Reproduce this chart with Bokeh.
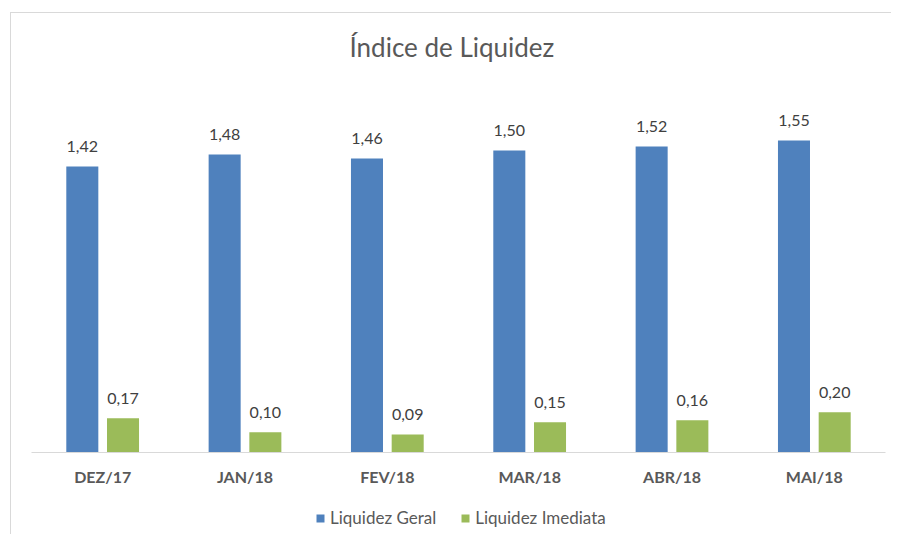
from bokeh.plotting import figure
from bokeh.models import ColumnDataSource, Range1d, FactorRange, Legend, LegendItem
from bokeh.layouts import column
from bokeh.transform import dodge
from bokeh.embed import file_html
from bokeh.resources import INLINE

months = ["DEZ/17", "JAN/18", "FEV/18", "MAR/18", "ABR/18", "MAI/18"]
liquidez_geral = [1.42, 1.48, 1.46, 1.50, 1.52, 1.55]
liquidez_imediata = [0.17, 0.10, 0.09, 0.15, 0.16, 0.20]

def fmt(v):
    return f"{v:.2f}".replace(".", ",")

src = ColumnDataSource(dict(
    m=months,
    g=liquidez_geral,
    i=liquidez_imediata,
    gl=[fmt(v) for v in liquidez_geral],
    il=[fmt(v) for v in liquidez_imediata],
))

FONT = "Lato"
TXT = "#595959"
BORDER = "#d9d9d9"
BLUE = "#4f81bd"
GREEN = "#9bbb59"

p = figure(frame_width=854, frame_height=382, x_range=FactorRange(*months, range_padding=0),
           y_range=Range1d(0, 1.897), output_backend="svg", toolbar_location=None,
           min_border_left=31, min_border_right=6, min_border_top=70, min_border_bottom=40)
p.outline_line_color = None
p.background_fill_alpha = 0
p.border_fill_alpha = 0
p.xgrid.visible = False
p.ygrid.visible = False
p.yaxis.visible = False

p.title.text = "Índice de Liquidez"
p.title.align = "left"
p.title.offset = 318
p.title.text_font = FONT
p.title.text_font_size = "26px"
p.title.text_font_style = "normal"
p.title.text_color = TXT
p.title.standoff = 16

ax = p.xaxis[0]
ax.axis_line_color = BORDER
ax.major_tick_line_color = None
ax.minor_tick_line_color = None
ax.major_tick_out = 0
ax.major_tick_in = 0
ax.major_label_text_font = FONT
ax.major_label_text_font_size = "16px"
ax.major_label_text_font_style = "bold"
ax.major_label_text_color = TXT
ax.major_label_standoff = 14

BW = 0.225
OFF = 0.143
p.vbar(x=dodge("m", -OFF, range=p.x_range), top="g", width=BW, source=src,
       fill_color=BLUE, line_color=None)
p.vbar(x=dodge("m", OFF, range=p.x_range), top="i", width=BW, source=src,
       fill_color=GREEN, line_color=None)

p.text(x=dodge("m", -OFF, range=p.x_range), y="g", text="gl", source=src,
       text_align="center", text_baseline="alphabetic", y_offset=-20,
       text_font={"value": FONT}, text_font_size="16px", text_color="#404040")
p.text(x=dodge("m", OFF, range=p.x_range), y="i", text="il", source=src,
       text_align="center", text_baseline="alphabetic", y_offset=-20,
       text_font={"value": FONT}, text_font_size="16px", text_color="#404040")

# legend strip below the chart (its bars sit outside its visible range)
lf = figure(width=891, height=42, x_range=FactorRange(*months), y_range=Range1d(10, 11),
            x_axis_type=None, y_axis_type=None, output_backend="svg", toolbar_location=None,
            min_border=0)
lf.outline_line_color = None
lf.background_fill_alpha = 0
lf.border_fill_alpha = 0
lf.xgrid.visible = False
lf.ygrid.visible = False
lg = lf.vbar(x="m", top="g", width=BW, source=src, fill_color=BLUE, line_color=None)
li = lf.vbar(x="m", top="i", width=BW, source=src, fill_color=GREEN, line_color=None)

legend = Legend(items=[LegendItem(label="Liquidez Geral", renderers=[lg]),
                       LegendItem(label="Liquidez Imediata", renderers=[li])],
                orientation="horizontal", location=(284, 6),
                glyph_width=10, glyph_height=10, label_standoff=5, spacing=24,
                padding=0, margin=0, border_line_color=None, background_fill_alpha=0,
                label_text_font=FONT, label_text_font_size="17px", label_text_color=TXT)
lf.add_layout(legend, "center")

layout = column(p, lf, spacing=0)
layout.styles = {
    "background": (f"linear-gradient({BORDER},{BORDER}) 10px 12px / 1px 100% no-repeat, "
                   f"linear-gradient({BORDER},{BORDER}) 10px 12px / 100% 1px no-repeat, white"),
}

open("out.html", "w").write(file_html(layout, INLINE))
